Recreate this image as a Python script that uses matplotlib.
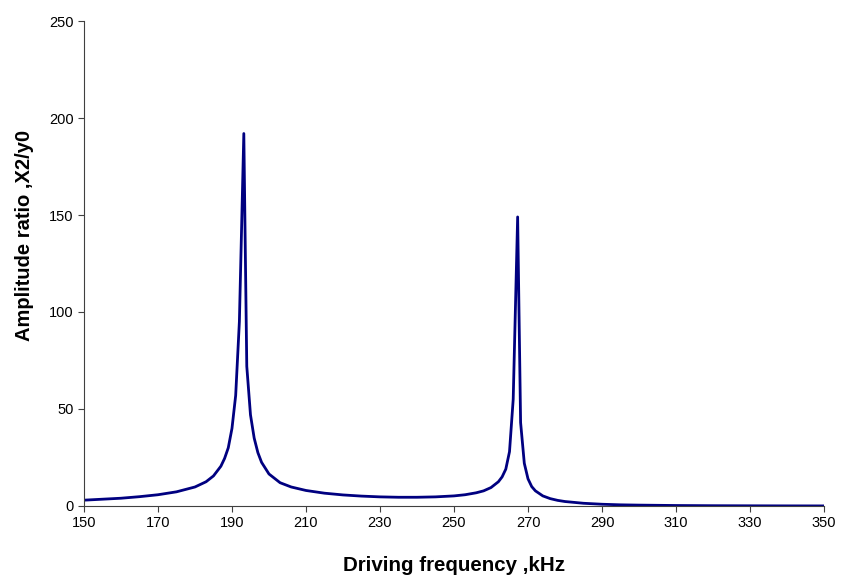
import matplotlib
matplotlib.use("Agg")
import matplotlib.pyplot as plt

# driving frequency (kHz) and amplitude ratio X2/y0
freq = [150, 155, 160, 165, 170, 175, 180, 183, 185, 187, 188, 189, 190, 191, 192,
        193.2, 194, 195, 196, 197, 198, 200, 203, 206, 210, 215, 220, 225, 230, 235,
        240, 245, 250, 253, 256, 258, 260, 262, 263, 264, 265, 266, 267.2, 268, 269,
        270, 271, 272, 274, 276, 278, 280, 285, 290, 295, 300, 310, 320, 330, 340, 350]
amp = [3.0, 3.5, 4.0, 4.8, 5.8, 7.3, 9.8, 12.5, 15.5, 20.5, 24.5, 30, 40, 57, 95,
       192, 72, 47, 35, 27.5, 22.5, 16.5, 12, 9.8, 8.0, 6.6, 5.7, 5.1, 4.7, 4.5,
       4.5, 4.7, 5.2, 5.8, 6.8, 7.8, 9.5, 12.5, 15, 19, 28, 55, 149, 43, 22,
       14, 10, 7.8, 5.2, 3.8, 2.9, 2.3, 1.4, 0.9, 0.6, 0.45, 0.25, 0.15, 0.1, 0.06, 0.04]

x_ticks = list(range(150, 351, 20))
y_ticks = list(range(0, 251, 50))

plt.rcParams['font.family'] = ['Liberation Sans', 'DejaVu Sans']

fig = plt.figure(figsize=(8.43, 5.82), dpi=100)
ax = fig.add_axes([0.0996, 0.1306, 0.8779, 0.8333])
ax.plot(freq, amp, color='#000080', linewidth=2)

ax.set_xlim(150, 350)
ax.set_ylim(0, 250)
ax.set_xticks(x_ticks)
ax.set_yticks(y_ticks)
ax.spines['top'].set_visible(False)
ax.spines['right'].set_visible(False)
ax.spines['left'].set_color('#404040')
ax.spines['bottom'].set_color('#404040')
ax.tick_params(direction='out', length=4, labelsize=10.5, color='#404040')

ax.set_xlabel('Driving frequency ,kHz', fontsize=14.8, fontweight='bold')
ax.set_ylabel('Amplitude ratio ,X2/y0', fontsize=14.5, fontweight='bold')
ax.xaxis.set_label_coords(0.5, -0.122)
ax.yaxis.set_label_coords(-0.081, 0.557)
ax.xaxis.label.set_va('center')
ax.yaxis.label.set_va('center')

fig.savefig('out.png', dpi=100)
